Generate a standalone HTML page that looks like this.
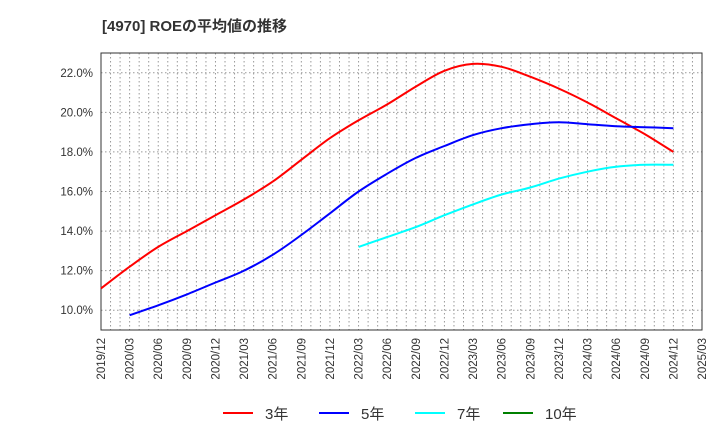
<!DOCTYPE html>
<html><head><meta charset="utf-8"><style>
body{margin:0;background:#fff;font-family:"Liberation Sans","Noto Sans CJK JP",sans-serif;}
</style></head><body>
<svg id="c" width="720" height="440" xmlns="http://www.w3.org/2000/svg" style="display:block">
<text x="102" y="31" font-size="15" font-weight="bold" fill="#333" font-family="Liberation Sans, Noto Sans CJK JP, sans-serif">[4970]  ROEの平均値の推移</text>
<g id="grid"></g><g id="axes"></g><g id="series"></g><g id="legend"></g>
</svg>
<script>
const xLabels=["2019/12","2020/03","2020/06","2020/09","2020/12","2021/03","2021/06","2021/09","2021/12","2022/03","2022/06","2022/09","2022/12","2023/03","2023/06","2023/09","2023/12","2024/03","2024/06","2024/09","2024/12","2025/03"];
const yTicks=[10,12,14,16,18,20,22];
const s3=[11.1,12.2,13.2,14.0,14.8,15.6,16.5,17.6,18.7,19.6,20.4,21.3,22.1,22.45,22.3,21.8,21.2,20.5,19.7,18.9,18.0];
const s5=[null,9.75,10.25,10.8,11.4,12.0,12.8,13.8,14.9,16.0,16.9,17.7,18.3,18.85,19.2,19.4,19.5,19.4,19.3,19.25,19.2];
const s7=[null,null,null,null,null,null,null,null,null,13.2,13.7,14.2,14.8,15.35,15.85,16.2,16.65,17.0,17.25,17.35,17.35];
const s10=[];
const L=101,R=702,T=53,B=330,ymin=9,ymax=23;
const ns="http://www.w3.org/2000/svg";
const X=i=>L+(R-L)*i/(xLabels.length-1);
const Y=v=>B-(v-ymin)/(ymax-ymin)*(B-T);
function mk(tag,attrs,parent,text){const e=document.createElementNS(ns,tag);for(const k in attrs)e.setAttribute(k,attrs[k]);if(text!=null)e.textContent=text;document.getElementById(parent).appendChild(e);return e;}
for(let m=1;m<(xLabels.length-1)*3;m++){const x=L+(R-L)*m/((xLabels.length-1)*3);
const g=mk('line',{x1:x,x2:x,y1:T,y2:B,stroke:'#999','stroke-dasharray':'1.5,2.5','stroke-width':1},'grid');
}
yTicks.forEach(v=>{const g=mk('line',{x1:L,x2:R,y1:Y(v),y2:Y(v),stroke:'#999','stroke-dasharray':'1.5,2.5'},'grid');

const t=mk('text',{x:L-8,y:Y(v)+4,'text-anchor':'end','font-size':11.5,fill:'#333'},'axes',v.toFixed(1)+'%');
});
const fr=mk('rect',{x:L,y:T,width:R-L,height:B-T,fill:'none',stroke:'#333'},'axes');

xLabels.forEach((l,i)=>{const t=mk('text',{transform:`translate(${X(i)+4},${B+8}) rotate(-90)`,'text-anchor':'end','font-size':11.5,fill:'#333'},'axes',l);
});
function line(arr,color,name){const pts=[];arr.forEach((v,i)=>{if(v!=null)pts.push([X(i),Y(v)]);});
if(pts.length<2)return;let d='M'+pts[0][0].toFixed(1)+','+pts[0][1].toFixed(1);
for(let i=0;i<pts.length-1;i++){const p0=pts[i-1]||pts[i],p1=pts[i],p2=pts[i+1],p3=pts[i+2]||p2;
const c1=[p1[0]+(p2[0]-p0[0])/6,p1[1]+(p2[1]-p0[1])/6],c2=[p2[0]-(p3[0]-p1[0])/6,p2[1]-(p3[1]-p1[1])/6];
d+='C'+c1.map(n=>n.toFixed(1)).join(',')+' '+c2.map(n=>n.toFixed(1)).join(',')+' '+p2[0].toFixed(1)+','+p2[1].toFixed(1);}
const p=mk('path',{d:d,fill:'none',stroke:color,'stroke-width':2},'series');
}
line(s3,'#ff0000','series-3y');line(s5,'#0000ff','series-5y');line(s7,'#00ffff','series-7y');line(s10,'#008000','series-10y');
[["3年",'#ff0000',223],["5年",'#0000ff',319],["7年",'#00ffff',415],["10年",'#008000',503]].forEach(([n,c,x])=>{
const g=mk('g',{},'legend');
const ln=document.createElementNS(ns,'line');[['x1',x],['x2',x+30],['y1',413],['y2',413],['stroke',c],['stroke-width',2]].forEach(a=>ln.setAttribute(a[0],a[1]));g.appendChild(ln);
const t=document.createElementNS(ns,'text');t.setAttribute('x',x+42);t.setAttribute('y',419);t.setAttribute('font-size',15);t.setAttribute('fill','#333');t.textContent=n;g.appendChild(t);});
</script>
</body></html>
